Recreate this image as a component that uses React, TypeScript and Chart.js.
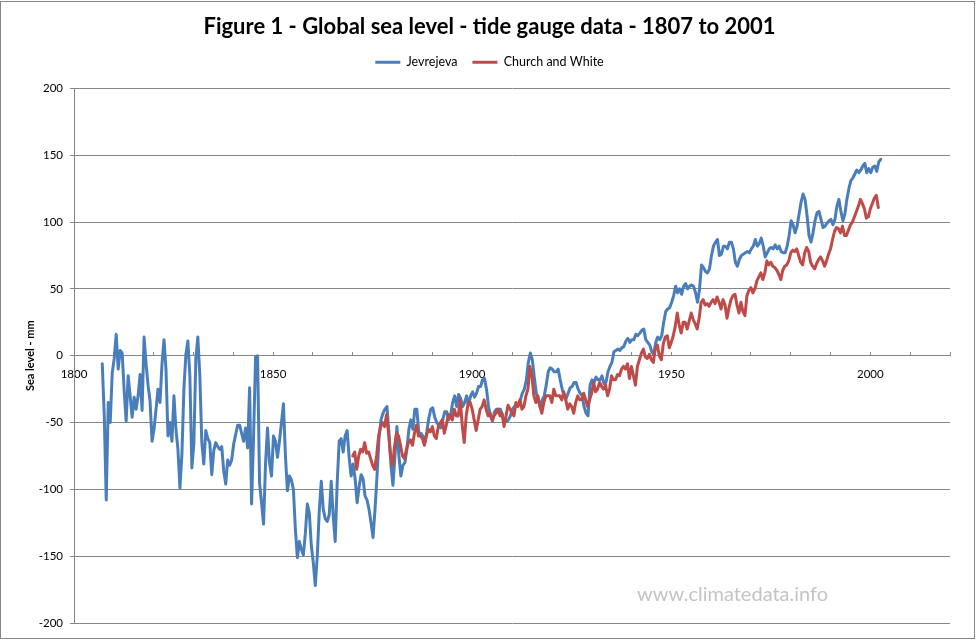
import React, { useEffect, useRef } from 'react';
import { Chart, registerables, layouts } from 'chart.js';

Chart.register(...registerables);

const chartTitle = 'Figure 1 - Global sea level - tide gauge data - 1807 to 2001';
const seriesNames = ['Jevrejeva', 'Church and White'];
const seriesColors = ['#4A7EBB', '#BE4B48'];
const yAxisTitle = 'Sea level - mm';
const watermarkText = 'www.climatedata.info';

const xMin = 1800;
const xMax = 2020;
const xMinorStep = 10;
const xLabelStep = 50;
const yMin = -200;
const yMax = 200;
const yStep = 50;

const stepYears = 0.5;
const jevStartYear = 1807.1;
const cwStartYear = 1870.0;

// Jevrejeva global sea level (mm), every half year from 1807.1
const jevrejeva = [
  -6, -45, -108, -35, -50, -13, -2, 16, -10, 4,
  2, -26, -49, -15, -30, -46, -31, -40, -30, -14,
  -41, 14, -6, -22, -34, -64, -55, -40, -25, -35,
  -6, 12, -10, -60, -50, -64, -30, -55, -70, -99,
  -74, -25, 1, 11, -15, -84, -66, -2, 14, -15,
  -65, -81, -56, -62, -65, -89, -71, -65, -68, -70,
  -68, -86, -96, -78, -82, -78, -66, -59, -52, -52,
  -58, -64, -54, -69, -24, -111, -60, -1, 0, -95,
  -110, -126, -81, -54, -80, -90, -60, -64, -76, -64,
  -50, -36, -75, -101, -90, -93, -100, -130, -151, -139,
  -145, -149, -133, -111, -118, -142, -155, -172, -150, -116,
  -94, -115, -122, -124, -119, -94, -120, -139, -95, -64,
  -62, -72, -60, -56, -76, -90, -81, -92, -110, -98,
  -89, -92, -105, -108, -115, -125, -136, -115, -90, -62,
  -48, -43, -40, -38, -58, -82, -97, -75, -53, -75,
  -90, -82, -80, -70, -55, -48, -55, -40, -40, -58,
  -58, -60, -65, -57, -47, -40, -39, -46, -50, -52,
  -54, -48, -42, -42, -48, -44, -35, -30, -38, -29,
  -32, -38, -35, -30, -37, -30, -27, -31, -28, -23,
  -23, -18, -17, -25, -38, -45, -49, -42, -40, -40,
  -40, -45, -50, -49, -48, -45, -40, -38, -36, -36,
  -33, -28, -25, -18, -5, 2, -3, -16, -28, -33,
  -38, -33, -30, -22, -12, -9, -10, -12, -12, -10,
  -18, -25, -30, -32, -28, -24, -23, -20, -20, -25,
  -28, -30, -38, -43, -45, -22, -18, -20, -16, -18,
  -18, -15, -21, -20, -12, -8, -5, 3, 4, 5,
  4, 6, 7, 11, 13, 10, 12, 12, 16, 15,
  17, 19, 20, 12, 10, 8, 3, 1, 10, 14,
  12, 15, 25, 33, 35, 36, 40, 45, 52, 47,
  50, 46, 52, 54, 50, 52, 53, 52, 47, 40,
  50, 68, 66, 63, 62, 65, 75, 82, 85, 87,
  75, 76, 82, 82, 80, 85, 85, 80, 70, 67,
  72, 75, 76, 77, 78, 77, 80, 82, 87, 82,
  84, 88, 82, 74, 77, 80, 81, 80, 83, 80,
  82, 78, 77, 77, 82, 90, 101, 98, 92, 97,
  106, 115, 121, 117, 105, 90, 85, 92, 101, 107,
  108, 102, 96, 97, 99, 101, 102, 98, 102, 112,
  117, 108, 101, 106, 117, 125, 131, 133, 136, 139,
  137, 139, 142, 144, 137, 140, 137, 141, 142, 138,
  145, 147,
];

// Church and White global sea level (mm), every half year from 1870.0
const churchWhite = [
  -75, -72, -85, -75, -70, -72, -65, -73, -72, -77,
  -82, -85, -75, -60, -53, -50, -53, -44, -58, -75,
  -82, -68, -58, -60, -67, -75, -77, -70, -65, -63,
  -67, -58, -52, -60, -60, -62, -67, -60, -55, -57,
  -53, -60, -62, -53, -50, -48, -58, -52, -44, -45,
  -48, -40, -45, -45, -33, -52, -65, -45, -35, -35,
  -40, -48, -56, -48, -40, -38, -33, -40, -45, -43,
  -48, -45, -43, -40, -45, -43, -53, -45, -37, -40,
  -43, -45, -35, -38, -33, -40, -38, -30, -25, -8,
  -15, -30, -35, -30, -38, -43, -35, -30, -30, -30,
  -35, -25, -30, -30, -30, -33, -27, -33, -40, -36,
  -38, -43, -35, -30, -33, -33, -28, -33, -38, -33,
  -28, -20, -27, -25, -20, -23, -25, -22, -30, -25,
  -15, -18, -18, -14, -15, -10, -8, -10, -6, -17,
  -8, -15, -22, -8, -3, 2, 5, -1, -2, 1,
  -3, -5, 6, 8, 0, -3, 9, 14, 15, 6,
  10, 15, 22, 32, 23, 17, 25, 25, 20, 26,
  32, 27, 24, 20, 28, 40, 42, 38, 39, 37,
  40, 42, 39, 44, 40, 35, 42, 38, 28, 36,
  42, 45, 46, 38, 32, 40, 33, 30, 45, 49,
  51, 47, 50, 56, 59, 62, 57, 62, 71, 68,
  70, 67, 66, 64, 61, 57, 64, 67, 68, 71,
  77, 79, 78, 80, 75, 70, 68, 77, 81, 78,
  70, 67, 65, 69, 72, 74, 71, 67, 71, 76,
  80, 87, 93, 96, 95, 92, 97, 90, 90, 94,
  98, 100, 104, 108, 112, 117, 114, 110, 103, 104,
  110, 114, 118, 120, 111,
];

const toPoints = (start: number, values: number[]) =>
  values.map((v, i) => ({ x: start + i * stepYears, y: v }));

const frameAndWatermark = {
  id: 'frameAndWatermark',
  afterDraw(chart: any) {
    const { ctx } = chart;
    ctx.save();
    ctx.strokeStyle = '#868686';
    ctx.lineWidth = 1;
    ctx.strokeRect(0.5, 1.5, 974, 637);
    ctx.fillStyle = '#c4c4c4';
    ctx.font = '20px Lato';
    ctx.textAlign = 'left';
    ctx.textBaseline = 'alphabetic';
    ctx.fillText(watermarkText, 637, 601);
    ctx.restore();
  },
};

// empty layout boxes: a gap under the legend and a margin right of the plot
const makeSpacer = (position: string, size: number, fullSize: boolean) => {
  const box: any = {
    position,
    weight: 500,
    fullSize,
    options: {},
    left: 0,
    top: 0,
    right: 0,
    bottom: 0,
    width: 0,
    height: 0,
    isHorizontal: () => position === 'top' || position === 'bottom',
    getPadding: () => ({ top: 0, left: 0, right: 0, bottom: 0 }),
    update(maxWidth: number, maxHeight: number) {
      if (box.isHorizontal()) {
        box.width = maxWidth;
        box.height = size;
      } else {
        box.width = size;
        box.height = maxHeight;
      }
    },
    draw() {},
  };
  return box;
};

const spacers = {
  id: 'spacers',
  beforeInit(chart: any) {
    layouts.addBox(chart, makeSpacer('top', 10, true));
    layouts.addBox(chart, makeSpacer('right', 29, false));
  },
};

export default function App() {
  const canvasRef = useRef<HTMLCanvasElement | null>(null);

  useEffect(() => {
    if (!canvasRef.current) return;
    const gridColor = '#868686';
    const tickFont = { family: 'Lato', size: 11.5 };
    const chart = new Chart(canvasRef.current, {
      type: 'line',
      data: {
        datasets: [
          {
            label: seriesNames[0],
            data: toPoints(jevStartYear, jevrejeva),
            borderColor: seriesColors[0],
            backgroundColor: seriesColors[0],
            borderWidth: 3,
            pointRadius: 0,
            pointStyle: 'line',
            tension: 0,
            borderJoinStyle: 'round',
            borderCapStyle: 'round',
            order: 1,
          },
          {
            label: seriesNames[1],
            data: toPoints(cwStartYear, churchWhite),
            borderColor: seriesColors[1],
            backgroundColor: seriesColors[1],
            borderWidth: 3,
            pointRadius: 0,
            pointStyle: 'line',
            tension: 0,
            borderJoinStyle: 'round',
            borderCapStyle: 'round',
            order: 0,
          },
        ],
      },
      options: {
        responsive: false,
        animation: false,
        devicePixelRatio: 1,
        layout: { padding: { left: 0, right: 0, top: 0, bottom: 18 } },
        plugins: {
          title: {
            display: true,
            text: chartTitle,
            color: '#000',
            font: { family: 'Lato', weight: 'bold', size: 22, lineHeight: 1 },
            padding: { top: 16, bottom: 3 },
          },
          legend: {
            position: 'top',
            labels: {
              usePointStyle: true,
              pointStyleWidth: 25,
              color: '#000',
              font: { family: 'Lato', size: 12.5 },
              padding: 15,
              sort: (a: any, b: any) => a.datasetIndex - b.datasetIndex,
            },
          },
          tooltip: { enabled: false },
        },
        scales: {
          x: {
            type: 'linear',
            min: xMin,
            max: xMax,
            position: { y: 0 },
            grid: { drawOnChartArea: false, drawTicks: true, tickLength: -4, color: gridColor },
            border: { color: gridColor },
            ticks: {
              stepSize: xMinorStep,
              autoSkip: false,
              maxRotation: 0,
              padding: 16,
              color: '#000',
              font: tickFont,
              callback: (v: any) => (Number(v) % xLabelStep === 0 ? String(v) : ''),
            },
          },
          y: {
            min: yMin,
            max: yMax,
            ticks: { stepSize: yStep, padding: 7, color: '#000', font: tickFont },
            grid: { color: gridColor, tickLength: 4 },
            border: { color: gridColor },
            title: {
              display: true,
              text: yAxisTitle,
              color: '#000',
              font: { family: 'Lato', weight: 'bold', size: 11 },
              padding: { top: 24, bottom: 0 },
            },
            afterFit: (scale: any) => {
              scale.width = 74;
            },
          },
        },
      },
      plugins: [frameAndWatermark, spacers],
    } as any);
    return () => chart.destroy();
  }, []);

  return (
    <div style={{ position: 'absolute', left: 0, top: 0, width: 979, height: 641, background: '#fff' }}>
      <canvas ref={canvasRef} width={979} height={641} />
    </div>
  );
}
